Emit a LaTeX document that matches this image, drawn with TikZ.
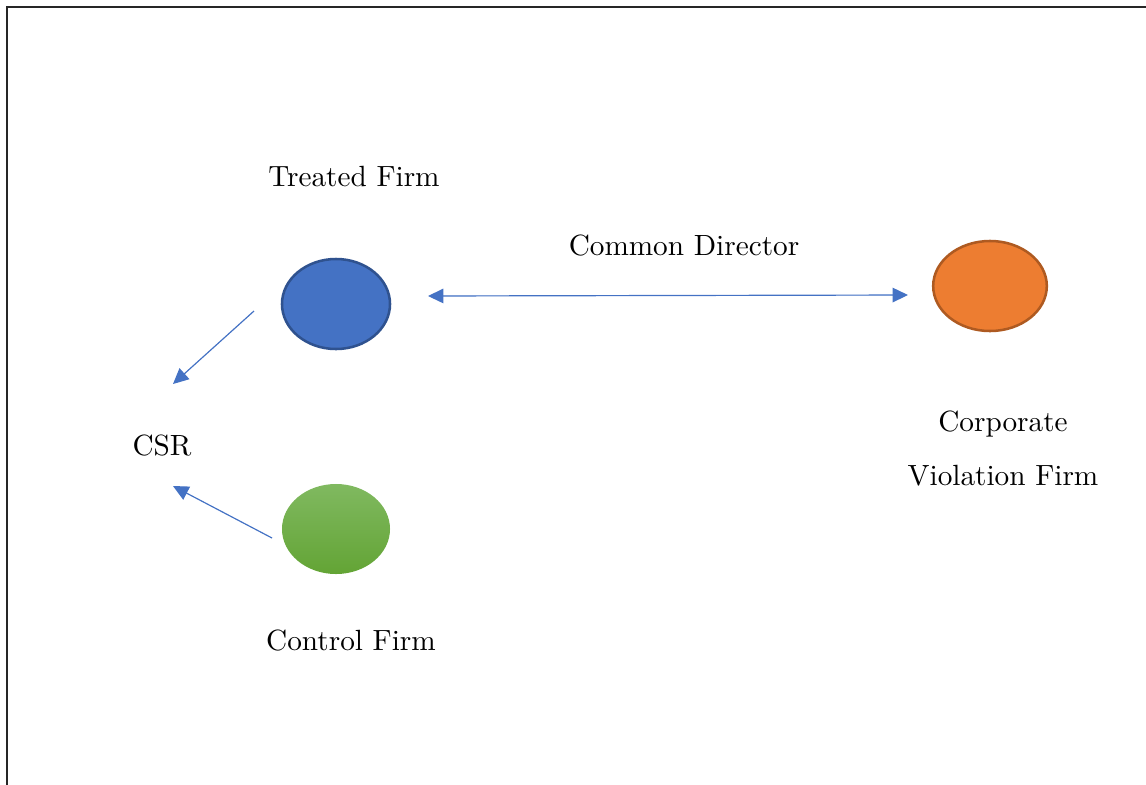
\documentclass[tikz,border=0pt]{standalone}
\usepackage{xcolor}
\usepackage{tikz}
\usetikzlibrary{arrows.meta,shapes.geometric,positioning}

\definecolor{treatblue}{RGB}{68,114,196}
\definecolor{treatedge}{RGB}{47,82,143}
\definecolor{ctrltop}{RGB}{128,185,96}
\definecolor{ctrlbot}{RGB}{99,164,53}
\definecolor{violorange}{RGB}{237,125,49}
\definecolor{violedge}{RGB}{174,90,33}

\begin{document}
\begin{tikzpicture}[x=0.0125cm, y=-0.0125cm, >={Triangle[length=5.5pt,width=5.2pt]}, semithick,
  firm/.style={ellipse, minimum width=1.35cm, minimum height=1.125cm, inner sep=0pt},
  lbl/.style={font=\fontsize{10.4}{12}\selectfont, inner sep=1pt},
  link/.style={draw=treatblue, line width=0.42pt, fill=treatblue}]
\useasboundingbox (0,0) rectangle (1146,784);
\draw[line width=0.5pt, black!85] (7,7) rectangle (1170,810);

\node[firm, fill=treatblue, draw=treatedge, line width=0.9pt] (treated) at (336,304) {};
\node[firm, top color=ctrltop, bottom color=ctrlbot] (control) at (336,529) {};
\node[firm, minimum width=1.42cm, fill=violorange, draw=violedge, line width=0.9pt] (violation) at (990,286) {};

\node[lbl] (treatedlbl) at (354,177) {Treated Firm};
\node[lbl] (controllbl) at (351,640) {Control Firm};
\node[lbl] (common) at (684,246) {Common Director};
\node[lbl] (csr) at (162,445) {CSR};
\node[lbl] (corp) at (1003,424) {Corporate};
\node[lbl] (viol) at (1003,476) {Violation Firm};

\coordinate (dirL) at (428,296);
\coordinate (dirR) at (908,295);
\coordinate (tOut) at (254,311);
\coordinate (csrTop) at (173,384);
\coordinate (cOut) at (272,538);
\coordinate (csrBot) at (173,486);

\path
(dirL) edge [link, <->] (dirR)
(tOut) edge [link, ->] (csrTop)
(cOut) edge [link, ->] (csrBot);
\end{tikzpicture}
\end{document}
